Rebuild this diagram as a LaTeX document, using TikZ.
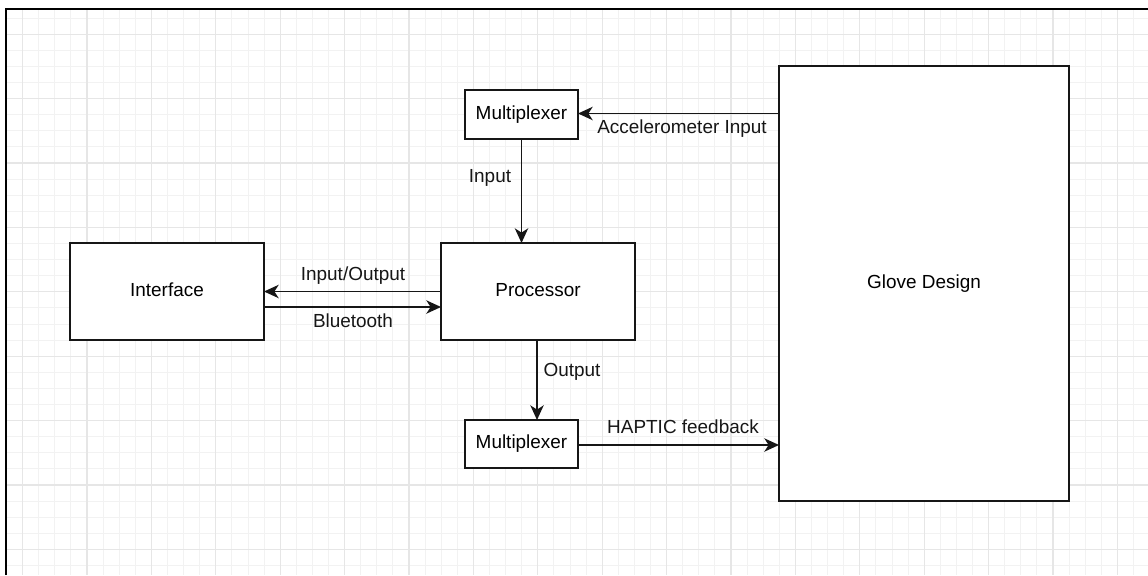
\documentclass[tikz,border=0pt]{standalone}
\usepackage{fontspec}
\setmainfont{Liberation Sans}
\usetikzlibrary{arrows.meta,calc}
\definecolor{gridminor}{HTML}{F2F2F2}
\definecolor{gridmajor}{HTML}{E6E6E6}
\definecolor{ink}{HTML}{161616}
\tikzset{
  box/.style={draw=ink, line width=1.25pt, fill=white, inner sep=0pt, outer sep=0pt,
    text height=0.716em, text depth=0pt, font=\fontsize{14.2pt}{17pt}\selectfont},
  lbl/.style={inner sep=0pt, text height=0.716em, text depth=0pt,
    font=\fontsize{14.2pt}{17pt}\selectfont, text=ink},
  arr/.style={draw=ink, line width=1.25pt, -{Stealth[length=11pt, width=10pt, inset=3.2pt]}}
}
\begin{document}
\begin{tikzpicture}[x=0.75pt, y=-0.75pt]
\useasboundingbox (0,0) rectangle (1148,575);
\fill[white] (0,0) rectangle (1148,575);
% grid minor
\foreach \i in {0,...,70} {
  \draw[gridminor, line width=0.75pt] ({22.6+16.1*\i},10) -- ({22.6+16.1*\i},575);
}
\foreach \i in {0,...,35} {
  \draw[gridminor, line width=0.75pt] (7,{18.1+16.1*\i}) -- (1148,{18.1+16.1*\i});
}
% grid major
\foreach \i in {0,...,17} {
  \draw[gridmajor, line width=1pt] ({22.6+64.4*\i},10) -- ({22.6+64.4*\i},575);
}
\foreach \i in {0,...,8} {
  \draw[gridmajor, line width=1pt] (7,{34.2+64.4*\i}) -- (1148,{34.2+64.4*\i});
}
% frame
\draw[black, line width=1.6pt] (6,575) -- (6,9) -- (1148,9);

% boxes
\node[box, minimum width=84.75pt, minimum height=36.75pt] (mux1) at (521.5,114.5) {Multiplexer};
\node[box, minimum width=217.5pt, minimum height=326.25pt] (glove) at (924,283.5) {Glove Design};
\node[box, minimum width=145.5pt, minimum height=72.75pt] (proc) at (538,291.5) {Processor};
\node[box, minimum width=145.5pt, minimum height=72.75pt] (iface) at (167,291.5) {Interface};
\node[box, minimum width=84.75pt, minimum height=36pt] (mux2) at (521.5,444) {Multiplexer};

% connectors
\draw[arr] ($(glove.west |- mux1.east)+(0,-1)$) -- ($(mux1.east)+(0,-1)$);
\draw[arr] (mux1.south) -- (mux1.south |- proc.north);
\draw[arr] (proc.west) -- (iface.east);
\draw[arr] ($(iface.east)+(0,15.5)$) -- ($(proc.west)+(0,15.5)$);
\draw[arr] ($(proc.south)+(-1,0)$) -- ($(proc.south |- mux2.north)+(-1,0)$);
\draw[arr] ($(mux2.east)+(0,1)$) -- ($(mux2.east -| glove.west)+(0,1)$);

% labels
\node[lbl] (lacc) at (682,128.3) {Accelerometer Input};
\node[lbl] (lin) at (490,178) {Input};
\node[lbl] (lio) at (353,275.5) {Input/Output};
\node[lbl] (lbt) at (353,323) {Bluetooth};
\node[lbl] (lout) at (572,371.7) {Output};
\node[lbl] (lhap) at (683,429) {HAPTIC feedback};
\end{tikzpicture}
\end{document}
